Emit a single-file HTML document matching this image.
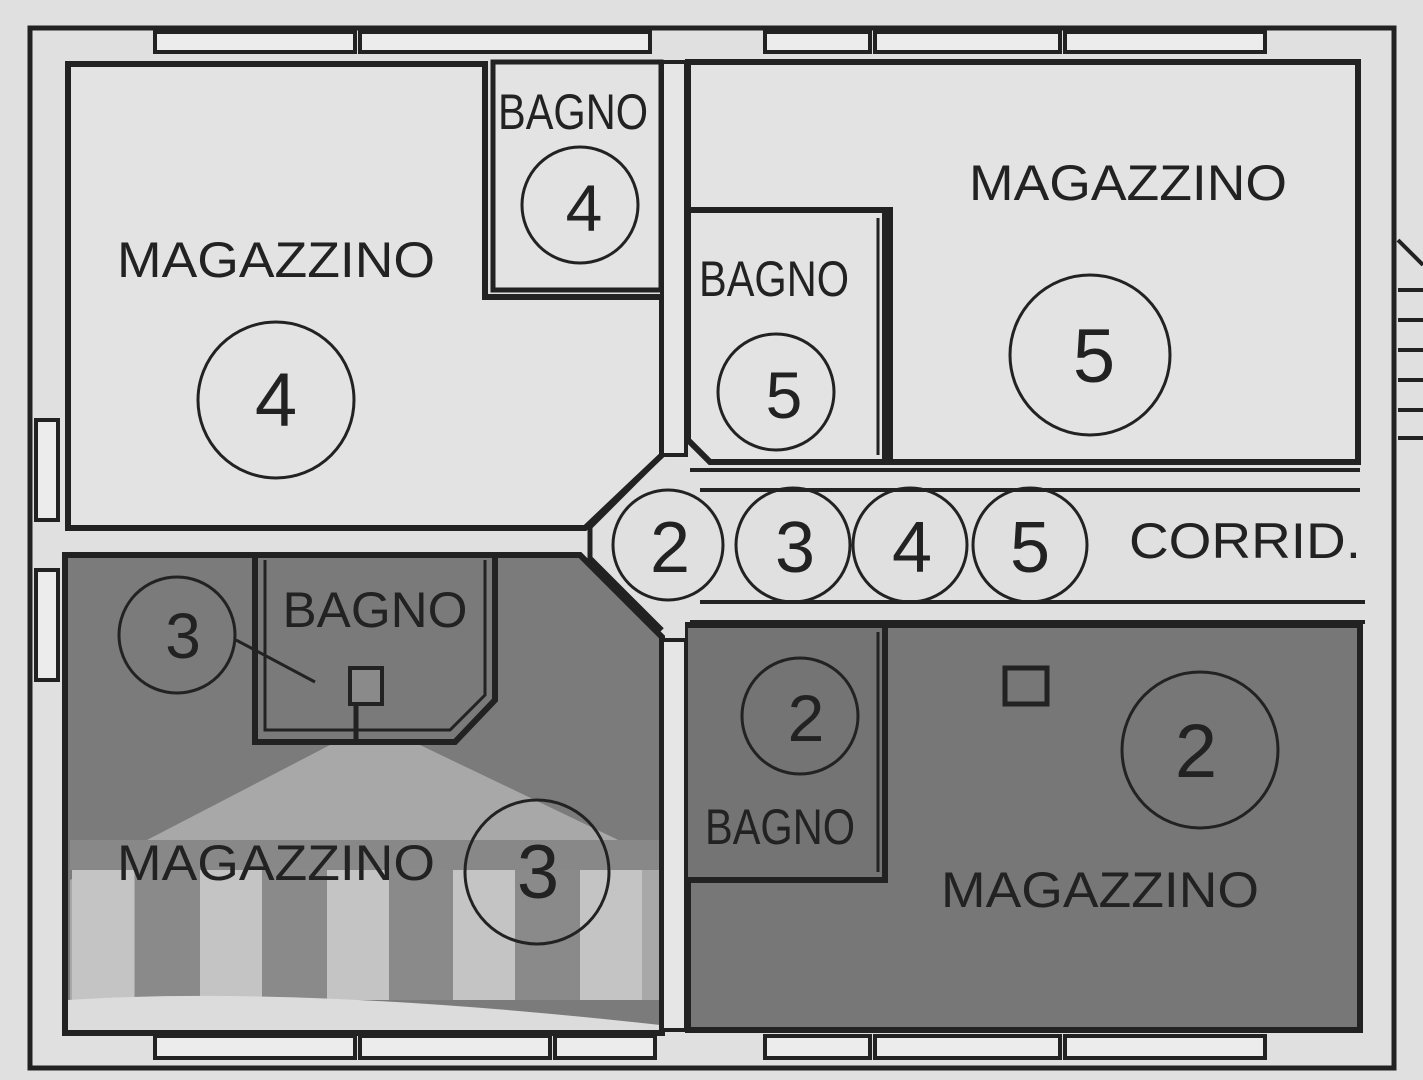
<!DOCTYPE html>
<html><head><meta charset="utf-8"><style>
html,body{margin:0;padding:0;background:#e2e2e2;}
svg{display:block}
text{font-family:"Liberation Sans",sans-serif;fill:#222;}
</style></head><body>
<svg width="1423" height="1080" viewBox="0 0 1423 1080" xmlns="http://www.w3.org/2000/svg">
<rect width="1423" height="1080" fill="#e0e0e0"/>
<rect x="30" y="28" width="1364" height="1040" fill="none" stroke="#222" stroke-width="5"/>
<g fill="#ececec" stroke="#222" stroke-width="4">
<rect x="155" y="32" width="200" height="20"/><rect x="360" y="32" width="290" height="20"/>
<rect x="765" y="32" width="105" height="20"/><rect x="875" y="32" width="185" height="20"/><rect x="1065" y="32" width="200" height="20"/>
<rect x="155" y="1036" width="200" height="22"/><rect x="360" y="1036" width="190" height="22"/><rect x="555" y="1036" width="100" height="22"/>
<rect x="765" y="1036" width="105" height="22"/><rect x="875" y="1036" width="185" height="22"/><rect x="1065" y="1036" width="200" height="22"/>
<rect x="36" y="420" width="22" height="100"/><rect x="36" y="570" width="22" height="110"/>
</g>
<g stroke="#222" stroke-width="4">
<line x1="1398" y1="240" x2="1423" y2="265"/>
<line x1="1398" y1="290" x2="1423" y2="290"/><line x1="1398" y1="320" x2="1423" y2="320"/>
<line x1="1398" y1="350" x2="1423" y2="350"/><line x1="1398" y1="380" x2="1423" y2="380"/>
<line x1="1398" y1="410" x2="1423" y2="410"/><line x1="1398" y1="438" x2="1423" y2="438"/>
</g>
<!-- top-left magazzino 4 -->
<path d="M68 64 H485 V297 H662 V455 L585 528 H68 Z" fill="#e3e3e3" stroke="#222" stroke-width="6"/>
<rect x="493" y="62" width="168" height="228" fill="#e3e3e3" stroke="#222" stroke-width="5"/>
<!-- top right -->
<path d="M688 62 H1358 V462 H890 V210 H688 Z" fill="#e3e3e3" stroke="#222" stroke-width="6"/>
<path d="M688 210 H885 V462 H710 L688 440 Z" fill="#e3e3e3" stroke="#222" stroke-width="6"/>
<line x1="878" y1="218" x2="878" y2="455" stroke="#222" stroke-width="3"/>
<!-- corridor lines -->
<path d="M662 455 L590 527 V558 L662 630" fill="none" stroke="#222" stroke-width="5"/>
<path d="M690 470 H1360 M700 490 H1360 M700 602 H1365 M690 622 H1365" stroke="#222" stroke-width="4"/>
<!-- lower left dark -->
<path d="M65 555 H580 L662 637 V1033 H65 Z" fill="#7b7b7b"/>
<path d="M70 880 L330 745 L420 745 L660 860 V1000 H70 Z" fill="#a8a8a8"/>
<rect x="70" y="840" width="590" height="30" fill="#888"/>
<g fill="#8a8a8a"><rect x="135" y="870" width="65" height="130"/><rect x="262" y="870" width="65" height="130"/><rect x="388" y="870" width="65" height="130"/><rect x="515" y="870" width="65" height="130"/></g>
<g fill="#c4c4c4"><rect x="72" y="870" width="62" height="130"/><rect x="200" y="870" width="62" height="130"/><rect x="327" y="870" width="62" height="130"/><rect x="453" y="870" width="62" height="130"/><rect x="580" y="870" width="62" height="130"/></g>
<path d="M68 1000 Q300 985 660 1025 V1030 H68 Z" fill="#dcdcdc"/>
<path d="M65 555 H580 L662 637 V1033 H65 Z" fill="none" stroke="#222" stroke-width="6"/>
<!-- bagno 3 -->
<path d="M255 558 V742 H455 L495 700 V558" fill="#7a7a7a" stroke="#222" stroke-width="6"/>
<path d="M265 560 V730 H450 L485 695 V560" fill="none" stroke="#222" stroke-width="3"/>
<rect x="350" y="668" width="32" height="36" fill="#8a8a8a" stroke="#222" stroke-width="4"/>
<line x1="356" y1="704" x2="356" y2="740" stroke="#222" stroke-width="5"/>
<line x1="236" y1="640" x2="315" y2="682" stroke="#222" stroke-width="3"/>
<!-- lower right dark -->
<rect x="688" y="625" width="672" height="405" fill="#777" stroke="#222" stroke-width="6"/>
<path d="M690 700 Q780 690 860 700 L860 720 Q780 715 690 720 Z" fill="#ddd"/>
<path d="M688 625 H885 V880 H688" fill="#747474" stroke="#222" stroke-width="6"/>
<line x1="878" y1="632" x2="878" y2="872" stroke="#222" stroke-width="3"/>
<rect x="1005" y="668" width="42" height="36" fill="none" stroke="#222" stroke-width="5"/>
<!-- central wall -->
<rect x="662" y="640" width="24" height="390" fill="#e6e6e6" stroke="#222" stroke-width="4"/>
<rect x="662" y="62" width="24" height="393" fill="#e6e6e6" stroke="#222" stroke-width="4"/>
<!-- circles -->
<g fill="none" stroke="#222" stroke-width="3">
<circle cx="276" cy="400" r="78"/><circle cx="580" cy="205" r="58"/>
<circle cx="776" cy="392" r="58"/><circle cx="1090" cy="355" r="80"/>
<circle cx="668" cy="545" r="55"/><circle cx="793" cy="545" r="57"/><circle cx="910" cy="545" r="57"/><circle cx="1030" cy="545" r="57"/>
<circle cx="177" cy="635" r="58"/><circle cx="537" cy="872" r="72"/>
<circle cx="800" cy="716" r="58"/><circle cx="1200" cy="750" r="78"/>
</g>
<g font-size="76" text-anchor="middle">
<text x="276" y="426">4</text><text x="584" y="231" font-size="66">4</text>
<text x="784" y="418" font-size="66">5</text><text x="1094" y="382">5</text>
<text x="670" y="572" font-size="72">2</text><text x="795" y="572" font-size="72">3</text><text x="912" y="572" font-size="72">4</text><text x="1030" y="572" font-size="72">5</text>
<text x="183" y="658" font-size="64">3</text><text x="538" y="898">3</text>
<text x="806" y="741" font-size="66">2</text><text x="1196" y="777">2</text>
</g>
<g font-size="50" text-anchor="middle">
<text x="276" y="277" textLength="318" lengthAdjust="spacingAndGlyphs">MAGAZZINO</text>
<text x="1128" y="200" textLength="318" lengthAdjust="spacingAndGlyphs">MAGAZZINO</text>
<text x="276" y="880" textLength="318" lengthAdjust="spacingAndGlyphs">MAGAZZINO</text>
<text x="1100" y="907" textLength="318" lengthAdjust="spacingAndGlyphs">MAGAZZINO</text>
<text x="1245" y="558" textLength="232" lengthAdjust="spacingAndGlyphs">CORRID.</text>
<text x="573" y="129" textLength="150" lengthAdjust="spacingAndGlyphs">BAGNO</text>
<text x="774" y="296" textLength="150" lengthAdjust="spacingAndGlyphs">BAGNO</text>
<text x="375" y="627" textLength="185" lengthAdjust="spacingAndGlyphs">BAGNO</text>
<text x="780" y="844" textLength="150" lengthAdjust="spacingAndGlyphs">BAGNO</text>
</g>
</svg>
</body></html>
